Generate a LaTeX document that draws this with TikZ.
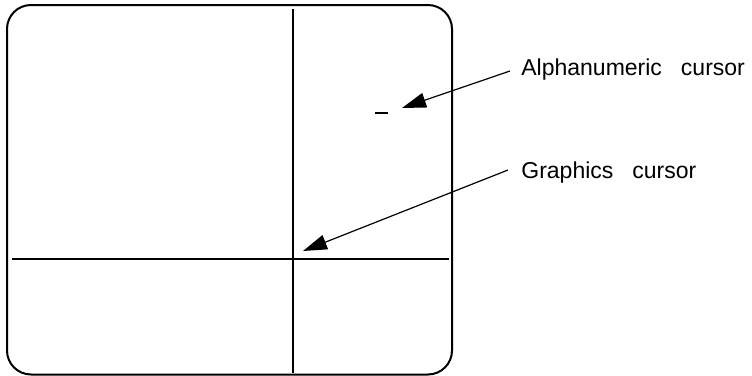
\documentclass[tikz,border=0pt]{standalone}
\usepackage{fontspec}
\setmainfont{Liberation Sans}
\usetikzlibrary{arrows.meta}

\tikzset{
    label/.style={anchor=base west,inner sep=0pt,font=\fontsize{11.5}{14}\selectfont},
    pointer/.style={line width=0.6pt,-{Triangle[length=12pt,width=7.5pt]}},
}

\begin{document}
\begin{tikzpicture}[x=0.5pt,y=-0.5pt]
\useasboundingbox (0,0) rectangle (752,376);
% screen
\draw[line width=1pt,rounded corners=12pt] (7,5) rectangle (452,374.5);
\draw[line width=0.7pt] (293,9) -- (293,373);
\draw[line width=0.7pt] (12,259) -- (449,259);
\coordinate (cross) at (293,259);
% alphanumeric cursor
\draw[line width=0.7pt] (375,113) -- (388,113);
\coordinate (alphatip) at (402,108);
\coordinate (graphtip) at (303,251);
% labels
\node[label] (alpha) at (521,75) {Alphanumeric\hspace{9.5pt}cursor};
\node[label] (graph) at (521,178) {Graphics\hspace{9.5pt}cursor};
\draw[pointer] ([shift={(-11,-4)}]alpha.base west) -- (alphatip);
\draw[pointer] ([shift={(-13,-8)}]graph.base west) -- (graphtip);
\end{tikzpicture}
\end{document}
